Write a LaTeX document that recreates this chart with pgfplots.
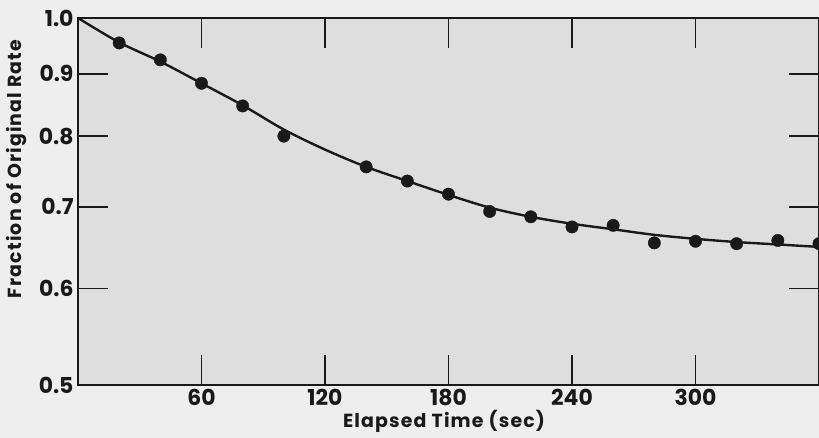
\documentclass[border=0pt]{standalone}
\usepackage{fontspec}
\setmainfont{Poppins}
\usepackage{pgfplots}
\pgfplotsset{compat=1.18}
\definecolor{paper}{RGB}{238,238,238}
\definecolor{plotbg}{RGB}{222,222,222}
\definecolor{ink}{RGB}{25,25,25}
\begin{document}
\begin{tikzpicture}
\fill[paper] (-78bp,-53bp) rectangle (741bp,385bp);
\begin{axis}[
  at={(0,0)}, anchor=south west,
  scale only axis,
  width=741bp, height=367bp,
  xmin=0, xmax=360,
  ymode=log, ymin=0.5, ymax=1.0,
  ytick={0.5,0.6,0.7,0.8,0.9,1.0},
  yticklabels={0.5,0.6,0.7,0.8,0.9,1.0},
  xtick={60,120,180,240,300},
  xticklabels={60,120,180,240,300},
  /pgf/number format/assume math mode=true,
  tick align=inside,
  major tick length=30bp,
  tick style={line width=1.6pt, color=ink},
  axis line style={line width=1.6pt, color=ink},
  axis background/.style={fill=plotbg},
  ticklabel style={font=\fontsize{22}{24}\selectfont\bfseries, text=ink},
  xticklabel style={yshift=-1bp},
  yticklabel style={xshift=-1bp},
  xlabel={Elapsed Time (sec)},
  ylabel={Fraction of Original Rate},
  label style={font=\fontsize{19}{21}\selectfont\bfseries\addfontfeatures{LetterSpace=6}, text=ink},
  xlabel style={at={(rel axis cs:0.494,0)}, anchor=center, yshift=-36bp},
  ylabel style={at={(rel axis cs:0,0.589)}, anchor=center, yshift=61bp},
  clip=false,
]
\addplot[ink, line width=2.4pt, smooth, no markers] coordinates {
 (0,1.0) (20,0.955) (40,0.921) (60,0.884) (80,0.848) (100,0.810)
 (120,0.780) (140,0.755) (160,0.735) (180,0.716) (200,0.699)
 (220,0.687) (240,0.678) (260,0.671) (280,0.664) (300,0.659)
 (320,0.655) (340,0.652) (360,0.649)
};
\addplot[only marks, mark=*, mark size=6.2bp, color=ink] coordinates {
 (20,0.954) (40,0.924) (60,0.884) (80,0.847) (100,0.800)
 (140,0.755) (160,0.735) (180,0.717) (200,0.694) (220,0.687)
 (240,0.674) (260,0.676) (280,0.654) (300,0.656) (320,0.653)
 (340,0.657) (360,0.653)
};
\end{axis}
\pgfresetboundingbox
\path[use as bounding box] (-78bp,-53bp) rectangle (741bp,385bp);
\end{tikzpicture}
\end{document}
